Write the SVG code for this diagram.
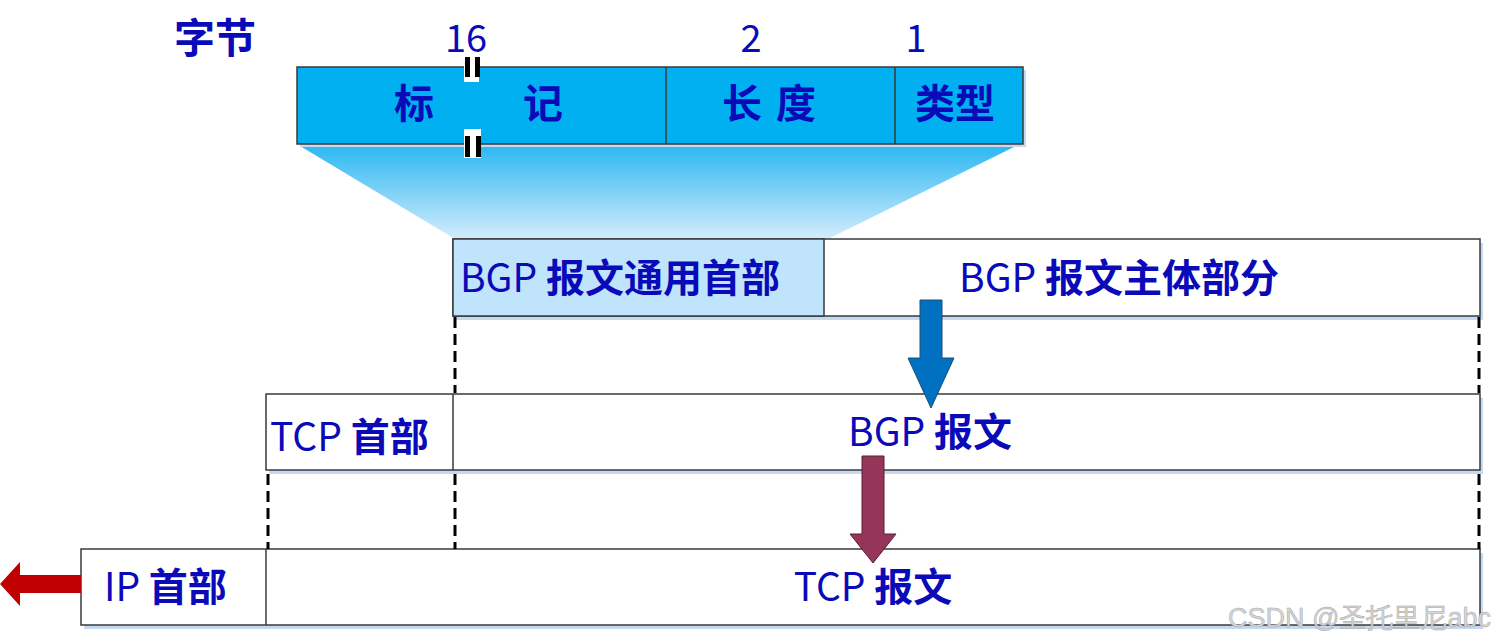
<svg xmlns="http://www.w3.org/2000/svg" width="1496" height="644" viewBox="0 0 1496 644">
<defs>
<linearGradient id="trap" x1="0" y1="0" x2="0" y2="1">
<stop offset="0" stop-color="#2cb8f2"/>
<stop offset="1" stop-color="#d4ecfc"/>
</linearGradient>
<style>
.box{stroke:#3a3a3a;stroke-width:1.5}
.sh{fill:#c4daf3}
.t{font-family:"Noto Sans CJK SC","Noto Sans",sans-serif;fill:#0a0ab8}
.b{font-weight:bold}
.dash{stroke:#000;stroke-width:3;stroke-dasharray:11,6;fill:none}
</style>
</defs>
<rect width="1496" height="644" fill="#fff"/>

<g id="labels">
<text class="t b" x="174" y="53" font-size="41">字节</text>
<text class="t" x="466" y="52" font-size="38" text-anchor="middle">16</text>
<text class="t" x="751" y="52" font-size="38" text-anchor="middle">2</text>
<text class="t" x="916" y="52" font-size="38" text-anchor="middle">1</text>
</g>

<g id="zoom-trapezoid">
<polygon points="300,146 1016,146 828,239 455,239" fill="url(#trap)"/>
</g>

<g id="header-fields">
<rect x="300" y="70" width="726" height="77" class="sh"/>
<rect x="297" y="67" width="726" height="77" fill="#00b0f0" class="box"/>
<line x1="666" y1="67" x2="666" y2="144" class="box"/>
<line x1="895" y1="67" x2="895" y2="144" class="box"/>
<text class="t b" x="414" y="118" font-size="40" text-anchor="middle">标</text>
<text class="t b" x="543" y="118" font-size="40" text-anchor="middle">记</text>
<text class="t b" x="776" y="118" font-size="40" text-anchor="middle" letter-spacing="14">长度</text>
<text class="t b" x="955" y="118" font-size="40" text-anchor="middle">类型</text>
<g id="break-marks">
<rect x="464" y="57" width="15" height="25" fill="#fff"/>
<rect x="465" y="57" width="5" height="20" fill="#000"/>
<rect x="475" y="57" width="5" height="20" fill="#000"/>
<rect x="464" y="129" width="17" height="29" fill="#fff"/>
<rect x="465" y="136" width="5" height="21" fill="#000"/>
<rect x="476" y="136" width="5" height="21" fill="#000"/>
</g>
</g>

<g id="bgp-message">
<rect x="456" y="243" width="1027" height="77" class="sh"/>
<rect x="453" y="239" width="1027" height="77" fill="#fff" class="box"/>
<rect x="453" y="239" width="371" height="77" fill="#bfe4fb" class="box"/>
<text class="t" x="460" y="292" font-size="39">BGP <tspan class="b">报文通用首部</tspan></text>
<text class="t" x="1119" y="292" font-size="39" text-anchor="middle">BGP <tspan class="b">报文主体部分</tspan></text>
</g>

<g id="tcp-segment">
<rect x="269" y="398" width="1214" height="76" class="sh"/>
<rect x="266" y="394" width="1214" height="76" fill="#fff" class="box"/>
<line x1="453" y1="394" x2="453" y2="470" class="box"/>
<text class="t" x="270" y="451" font-size="39">TCP <tspan class="b">首部</tspan></text>
<text class="t" x="930" y="446" font-size="39" text-anchor="middle">BGP <tspan class="b">报文</tspan></text>
</g>

<g id="ip-packet">
<rect x="84" y="553" width="1399" height="76" class="sh"/>
<rect x="81" y="549" width="1399" height="76" fill="#fff" class="box"/>
<line x1="266" y1="549" x2="266" y2="625" class="box"/>
<text class="t" x="104" y="601" font-size="39">IP <tspan class="b">首部</tspan></text>
<text class="t" x="873" y="601" font-size="39" text-anchor="middle">TCP <tspan class="b">报文</tspan></text>
</g>

<g id="connectors">
<line x1="455" y1="317" x2="455" y2="393" class="dash"/>
<line x1="1479" y1="317" x2="1479" y2="393" class="dash"/>
<line x1="268" y1="474" x2="268" y2="549" class="dash"/>
<line x1="455" y1="474" x2="455" y2="549" class="dash"/>
<line x1="1479" y1="474" x2="1479" y2="549" class="dash"/>
<polygon points="920,300 942,300 942,358 954,358 931,408 908,358 920,358" fill="#0070c0" stroke="#1f4e79" stroke-width="1"/>
<polygon points="862,456 884,456 884,534 896,534 873,563 850,534 862,534" fill="#953558" stroke="#5a1f36" stroke-width="1"/>
<polygon points="81,575 20,575 20,562 0,584 20,606 20,593 81,593" fill="#c00000"/>
</g>

<text x="1228" y="627" font-family="Liberation Sans, sans-serif" font-size="27" fill="#d6d6d6" stroke="#a8a8a8" stroke-width="0.5">CSDN @圣托里尼abc</text>
</svg>
